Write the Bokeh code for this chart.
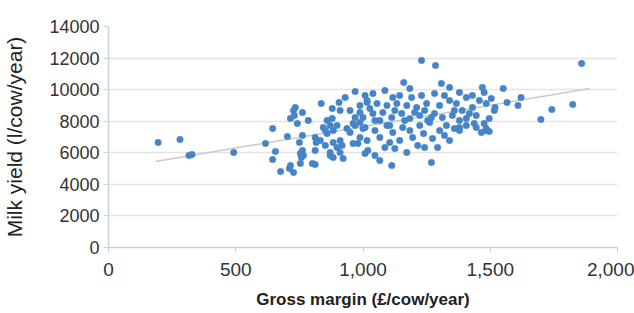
import numpy as np
from bokeh.plotting import figure
from bokeh.models import Range1d, NumeralTickFormatter, FixedTicker
from bokeh.embed import file_html
from bokeh.resources import INLINE

# Gross margin (£/cow/year)
gross_margin = [
    195, 281, 316, 328, 492, 617, 645, 656, 645, 676, 711, 727, 703, 727, 730,
    715, 762, 785, 750, 762, 754, 758, 812, 836, 812, 816, 832, 844, 871, 883,
    859, 871, 879, 906, 910, 930, 969, 898, 918, 910, 937, 961, 980, 988, 1016,
    734, 742, 859, 879, 852, 898, 949, 969, 988, 1000, 852, 883, 910, 961, 988,
    762, 766, 812, 871, 883, 922, 1008, 715, 754, 801,
    1230, 1285, 1160, 1184, 1308, 1340, 1039, 1086, 1117, 1016, 1055, 1094, 1133,
    1172, 1211, 1250, 1281, 1301, 1340, 1367, 1000, 1039, 1078, 1113, 1152, 1184,
    1223, 1254, 1281, 1312, 1351, 1008, 1047, 1094, 1117, 1156, 1223, 1262, 1328,
    1016, 1066, 1105, 1144, 1195, 1215, 1242, 1273, 1293, 1019, 1047, 1066, 1113,
    1269, 1320, 1379, 1406, 1437, 1484, 1476, 1469, 1551, 1621, 1609, 1566, 1519,
    1742, 1824, 1699, 1859, 1379, 1406, 1430, 1457, 1476, 1484, 1430, 1390, 1406,
    1445, 1484, 1379, 1379, 1445, 1465, 1496,
    1027, 1066, 1125, 1164, 1203, 1242, 1269, 1144, 1191, 1230, 1320, 1359, 1105,
    988, 969, 949, 1008, 1047, 1184, 1301, 1340, 1238, 1125, 1172, 1086, 1359,
    1418, 1496, 1516, 1504,
]

# Milk yield (l/cow/year)
milk_yield = [
    6650, 6840, 5830, 5890, 6020, 6590, 7540, 6080, 5570, 4810, 5000, 4750, 7030,
    8680, 8360, 8170, 8550, 8050, 6650, 7100, 5950, 5700, 5260, 9120, 6970, 6650,
    6780, 7600, 7730, 7410, 7220, 5830, 8810, 9190, 8680, 9500, 9880, 6340, 6460,
    6020, 7540, 7860, 6590, 9000, 9190,
    8870, 7860, 8050, 8170, 7410, 7730, 7290, 7730, 7920, 7540, 6460, 6650, 6780,
    6590, 6970, 6150, 5830, 6150, 6020, 5700, 5640, 5950, 5190, 5320, 5320,
    11850, 11530, 10450, 10070, 10390, 10140, 9760, 9950, 9500, 9310, 9120, 9000,
    9120, 9000, 8870, 9120, 9760, 9000, 9310, 9120, 8240, 8490, 8550, 8240, 8490,
    8170, 8360, 8050, 8490, 8240, 8360, 7600, 7410, 7730, 7290, 7600, 7730, 7920,
    7730, 6780, 6970, 6650, 6780, 6970, 6460, 6340, 6900, 6340, 6150, 5830, 5510,
    5190, 5380, 7100, 7600, 7730, 7860, 7540, 7860, 10140, 10070, 9500, 9000, 9190,
    8870, 8740, 9060, 8110, 11660, 9820, 9500, 9630, 9310, 9820, 9120, 8870, 8680,
    8170, 8360, 7410, 8050, 7410, 7600, 7290, 7350,
    8810, 8050, 8680, 8050, 8550, 8680, 8240, 9630, 9500, 9630, 9630, 8680, 7730,
    8550, 8240, 8680, 9630, 8050, 7410, 7410, 6780, 7220, 6270, 6020, 6340, 7540,
    8490, 8170, 8680, 9440,
]

# Linear trend line as drawn in the chart (start and end)
trend_x = [185, 1890]
trend_y = [5450, 10070]

x_ticks = [0, 500, 1000, 1500, 2000]
y_ticks = [0, 2000, 4000, 6000, 8000, 10000, 12000, 14000]

x_title = "Gross margin (£/cow/year)"
y_title = "Milk yield (l/cow/year)"

FONT = "Liberation Sans"

p = figure(width=634, height=313, output_backend="svg", toolbar_location=None,
           x_range=Range1d(0, 2000), y_range=Range1d(0, 14000),
           min_border_left=104, min_border_right=17, min_border_top=26,
           min_border_bottom=66)
p.outline_line_color = None

p.line(trend_x, trend_y, line_color="#c9c9c9", line_width=1.5)

p.scatter(gross_margin, milk_yield, size=6.5, fill_color="#4684c8",
          line_color="#4684c8", line_width=0.5)

p.xgrid.grid_line_color = None
p.ygrid.grid_line_color = "#e4e4e4"
p.ygrid.grid_line_width = 1.5
p.ygrid.ticker = FixedTicker(ticks=y_ticks)

p.xaxis.ticker = FixedTicker(ticks=x_ticks)
p.yaxis.ticker = FixedTicker(ticks=y_ticks)
p.xaxis.formatter = NumeralTickFormatter(format="0,0")

for ax in (p.xaxis, p.yaxis):
    ax.axis_line_color = "#d0d0d0"
    ax.axis_line_width = 1.5
    ax.major_tick_line_color = "#d0d0d0"
    ax.major_tick_out = 5
    ax.major_tick_in = 0
    ax.minor_tick_line_color = None
    ax.major_label_text_font = FONT
    ax.major_label_text_color = "#333333"
    ax.axis_label_text_font = FONT
    ax.axis_label_text_color = "#222222"
    ax.axis_label_text_font_style = "normal"

p.yaxis.major_label_text_font_size = "18px"
p.xaxis.major_label_text_font_size = "19px"
p.yaxis.axis_label = y_title
p.yaxis.axis_label_text_font_size = "21px"
p.yaxis.axis_label_standoff = 20
p.yaxis.major_label_standoff = 4
p.xaxis.axis_label = x_title
p.xaxis.axis_label_text_font_size = "17px"
p.xaxis.axis_label_text_font_style = "bold"
p.xaxis.axis_label_standoff = 11
p.xaxis.major_label_standoff = 10

open("out.html", "w").write(file_html(p, INLINE))
